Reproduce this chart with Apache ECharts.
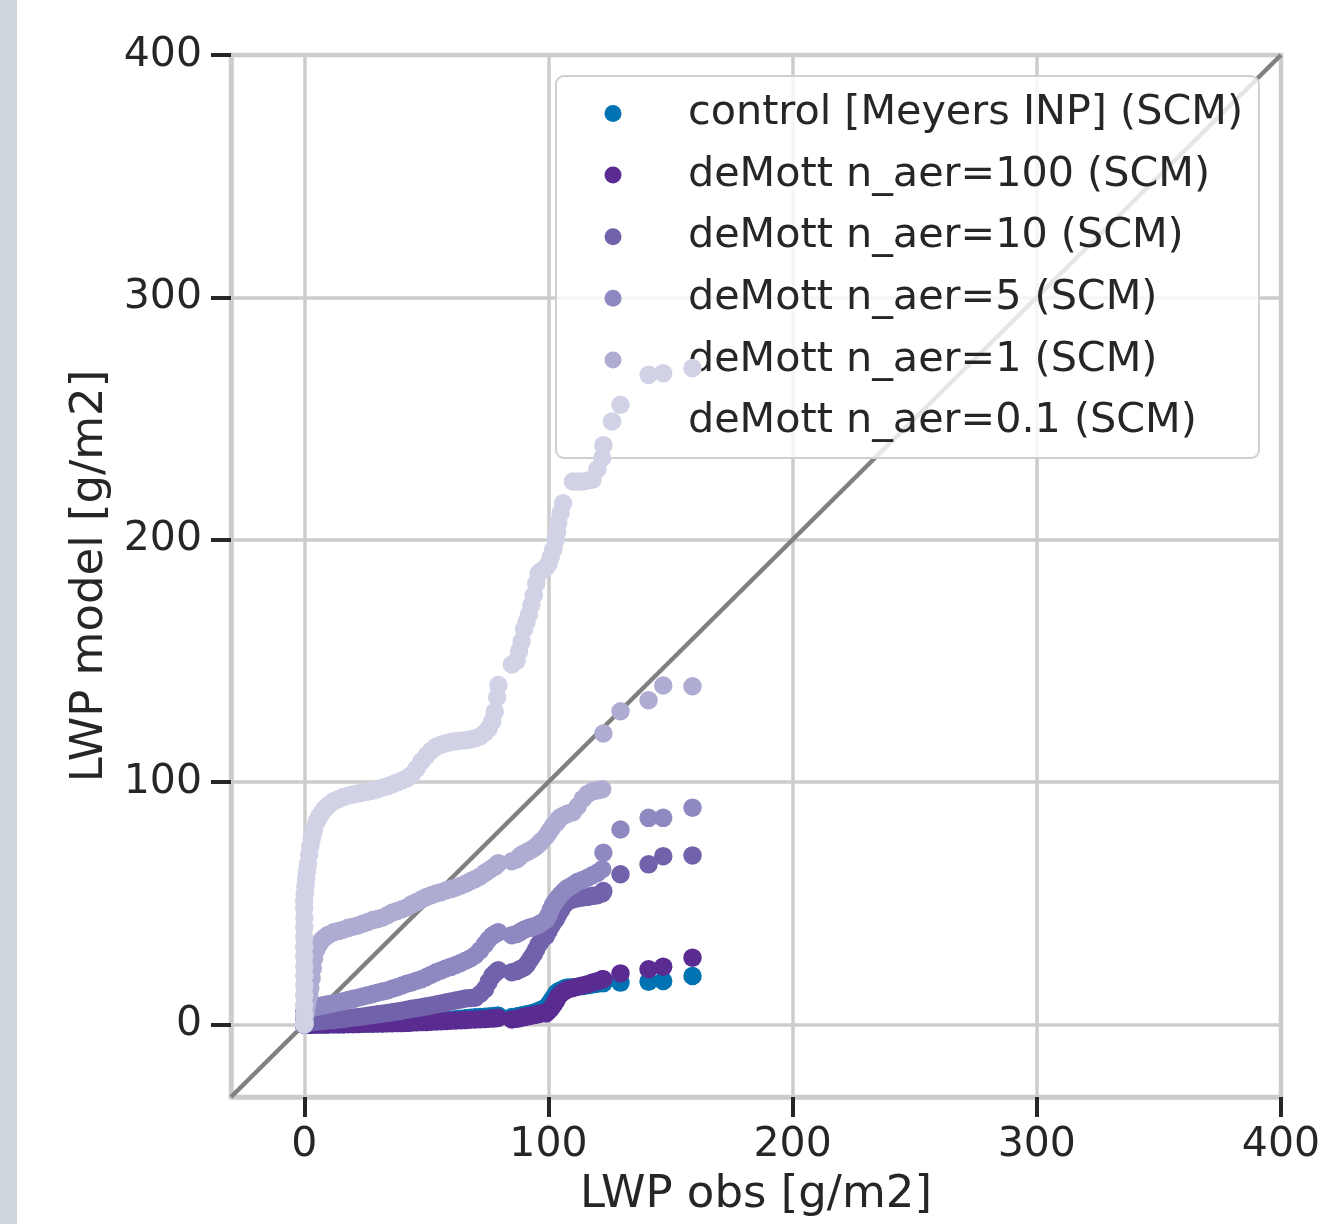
<!DOCTYPE html>
<html>
<head>
<meta charset="utf-8">
<script src="https://cdn.jsdelivr.net/npm/echarts@6/dist/echarts.min.js"></script>
<style>
html,body{margin:0;padding:0;background:#ffffff;}
#chart{width:1330px;height:1224px;}
</style>
</head>
<body>
<div id="chart"></div>
<script>
// Shared observed LWP quantiles (x) [g/m2]
const obs = [
  0,0,0,0,0,0,0,0,0,0,0,0,0,0,
  0.2,0.5,0.8,1.1,1.5,2,2.5,3,3.5,4,5,6,7,8,9,10,
  12,14,16,18,20,22,24,26,28,30,32,34,36,38,40,42,44,46,48,50,52,54,56,58,60,62,64,66,68,70,72,74,
  75.5,77,78,79,79.5,85,87,88,89,90,91,92,93,94,95,96,97,99,100,101,102,103,103.5,104,105,106,107,108,110,112,114,116,118,120,122,122.5,126,129.5,141,147,159
];
// Model LWP quantiles (y) per series [g/m2]
const controlMeyers = [
  0,0,0,0,0,0,0,0,0,0,0,0,0,0,
  0,0,0,0,0,0,0,0,0,0,0,0,0,0,0,0,
  0,0,0,0.1,0.1, 0.2,0.2,0.3,0.3,0.4, 0.4,0.5,0.6,0.7,0.8, 0.9,1,1.1,1.2,1.3, 1.4,1.5,1.6,1.7,1.9, 2.1,2.3,2.5,2.7,2.9, 3,3.1,
  3.2,3.3,3.4,3.5,3.5, 3,3.2,3.4,3.6,3.8, 4,4.2,4.5,4.8,5.1, 5.5,6,7,8,9.5, 11,12.5,13,13.5,14, 14.5,15,15.2,15.3,15.5, 15.8,16.1,16.4,16.7,17, 17,null,17.2,17.6,17.9, 19.9
];
const demott100 = [
  0,0,0,0,0,0,0,0,0,0,0,0,0,0,
  0,0,0,0,0,0,0,0,0,0,0,0,0,0,0,0,
  0,0,0,0.1,0.1, 0.1,0.2,0.2,0.2,0.3, 0.3,0.4,0.4,0.5,0.5, 0.6,0.7,0.8,0.9,1, 1.1,1.2,1.3,1.4,1.5, 1.6,1.7,1.8,1.9,2, 2.1,2.2,
  2.3,2.4,2.5,2.6,2.7, 2,2.3,2.5,2.8,3, 3.2,3.4,3.6,3.8,4, 4.3,4.6,4.5,5.5,6.5, 8,9.5,10.5,11.5,12.5, 13.3,14,14.5,15,15.5, 16,16.5,17.2,17.8,18.6, 18.6,null,21,22.7,23.8, 27.5
];
const demott10 = [
  0,0,0,0,0,0,0,0,0,0,0,0,0.1,0.2,
  0.3,0.4,0.5,0.6,0.7,0.8,0.9,1,1.05,1.1,1.2,1.3,1.4,1.5,1.6,1.7,
  1.8,2,2.2,2.5,2.8, 3,3.2,3.5,3.8,4.1, 4.4,4.7,5,5.3,5.6, 6,6.4,6.7,7,7.4, 7.8,8.2,8.6,9,9.4, 9.8,10.2,10.6,10.9,11, 12.5,14.5,
  17.5,20,21,22,22.3, 21.5,22,22.5,23,23.5, 24.5,26,27.5,29,31, 33,34.5,36.5,38.5,40.5, 42,43.5,44.5,45.5,47, 48.8,50,50.8,51.5,52, 52.3,52.6,53,53.3,54, 55,null,61.9,66,69.4, 69.7
];
const demott5 = [
  0,0,0,0,0.5,1,1.5,2,2.5,3,3.5,4,4.5,5,
  5.2,5.5,5.8,6,6.2,6.4,6.6,6.8,7,7.1,7.3,7.5,7.7,7.9,8.1,8.3,
  8.7,9.1,9.5,10,10.5, 11,11.5,12,12.5,13, 13.5,14,14.7,15.3,16, 16.7,17.3,18,18.6,19.5, 20.5,21.5,22.2,23,23.7, 24.5,25.3,26.2,27.2,28.5, 30.5,33,
  35,36.5,37.2,37.8,38, 36.8,37.3,37.8,38.5,39, 39.4,39.8,40.1,40.4,40.7, 41.2,41.8,43.2,45,47.5, 49.5,51,51.5,52.2,53.5, 54.5,55.5,56.3,57.5,58.8, 59.5,60.5,61.5,62.5,64, 70.8,null,80.4,85.2,85.2, 89.4
];
const demott1 = [
  0,0,0,0,0,0,0,0,0,0,0.5,1,1.5,2,
  2,4,6,8,10,12,15,19,23,27,31,33,34.5,35.5,36.3,37,
  38,38.5,39,39.8,40.3, 40.8,41.5,42.2,43,43.5, 44,45,46,46.8,47.5, 48.2,49.5,50.5,51.5,52.5, 53.3,54,54.5,55.2,55.8, 56.4,57.2,58,59,60, 61,62.5,
  63.5,64.5,65,66,66.5, 67.3,68,69,70,70.5, 71,71.5,72,72.7,73.5, 74.3,75.5,77.5,79,80.5, 82,83,83.5,84.5,85.5, 86,86.5,87,87.5,90, 93,95,96.2,96.5,97, 120,null,129.2,133.7,139.8, 139.5
];
const demott01 = [
  0,4,8,12,16,20,24,28,32,36,40,44,48,51,
  54,57,60,63,66,70,73.5,76.5,78.5,80.5,83.5,85.5,87,88.5,89.5,90.5,
  92,93,93.8,94.3,94.8, 95.2,95.6,96,96.4,97, 97.6,98.2,99,99.8,100.6, 101.5,103,105.5,108.5,110.8, 113,114.5,115.4,116,116.5, 116.8,117,117.2,117.5,118, 118.8,120.3,
  122,125,129,135,140, 148.5,150,154,158,163, 166,169,173,177,182, 186,187,188.5,190,193, 196,200,203,207,211, 215,null,null,224,224, 224,224.3,224.7,229,233.7, 239,248.8,255.7,268,268.7, 270.8
];
const seriesNames = [
  'control [Meyers INP] (SCM)',
  'deMott n_aer=100 (SCM)',
  'deMott n_aer=10 (SCM)',
  'deMott n_aer=5 (SCM)',
  'deMott n_aer=1 (SCM)',
  'deMott n_aer=0.1 (SCM)'
];
const seriesValues = [controlMeyers, demott100, demott10, demott5, demott1, demott01];
const seriesColors = ['#0173b2', '#5a2c92', '#7262ab', '#8e89c0', '#aeacd2', '#d2d2e7'];
const axisTicks = [0, 100, 200, 300, 400];
const identityLine = [-30, 400];

seriesValues.forEach((v, k) => {
  if (v.length !== obs.length) throw new Error('length mismatch in series ' + k + ': ' + v.length + ' vs ' + obs.length);
});

function pairs(ys) {
  const out = [];
  obs.forEach((x, i) => { if (ys[i] !== null) out.push([x, ys[i]]); });
  return out;
}

const FONT = '"DejaVu Sans", "Liberation Sans", sans-serif';
const TXT = '#262626';

const chart = echarts.init(document.getElementById('chart'), null, {renderer: 'canvas'});

const series = [{
  type: 'line',
  data: identityLine.map(v => [v, v]),
  symbol: 'none',
  silent: true,
  lineStyle: {color: '#808080', width: 4.5},
  z: 1,
  legendHoverLink: false
}];
seriesNames.forEach((name, k) => {
  series.push({
    name: name,
    type: 'scatter',
    data: pairs(seriesValues[k]),
    symbol: 'circle',
    symbolSize: 18.5,
    itemStyle: {color: seriesColors[k], opacity: 1},
    z: 2 + k,
    silent: true,
    animation: false
  });
});

const axisCommon = {
  type: 'value',
  min: -30,
  max: 400,
  axisLine: {show: true, onZero: false, lineStyle: {color: '#cccccc', width: 4.5}},
  axisTick: {show: true, inside: false, customValues: axisTicks, length: 20, lineStyle: {color: TXT, width: 4}},
  splitLine: {show: true, lineStyle: {color: '#cccccc', width: 3.5}},
  nameLocation: 'middle',
  nameTextStyle: {fontFamily: FONT, fontSize: 45, color: TXT}
};

chart.setOption({
  animation: false,
  backgroundColor: '#ffffff',
  graphic: [{
    type: 'rect',
    left: 0, top: 0,
    shape: {width: 17, height: 1224},
    style: {fill: '#cfd6de'},
    z: -10
  }],
  grid: {
    left: 231, right: 49, top: 55, bottom: 127,
    show: true, borderColor: '#cccccc', borderWidth: 4.5, backgroundColor: 'transparent'
  },
  xAxis: Object.assign({}, axisCommon, {
    name: 'LWP obs [g/m2]',
    nameGap: 76,
    axisLabel: {customValues: axisTicks, margin: 28, fontSize: 41, color: TXT, fontFamily: FONT}
  }),
  yAxis: Object.assign({}, axisCommon, {
    name: 'LWP model [g/m2]',
    nameGap: 111,
    nameRotate: 90,
    axisLabel: {customValues: axisTicks, margin: 29, fontSize: 41, color: TXT, fontFamily: FONT}
  }),
  legend: {
    data: seriesNames,
    orient: 'vertical',
    left: 556,
    top: 76,
    padding: [17, 16, 16, 48.5],
    itemGap: 20.6,
    itemWidth: 17,
    itemHeight: 17,
    icon: 'circle',
    selectedMode: false,
    backgroundColor: 'rgba(255,255,255,0.8)',
    borderColor: '#d0d0d0',
    borderWidth: 2,
    borderRadius: 8,
    textStyle: {fontFamily: FONT, fontSize: 41.3, color: TXT, padding: [0, 0, 0, 61.5]}
  },
  series: series
});
</script>
</body>
</html>
